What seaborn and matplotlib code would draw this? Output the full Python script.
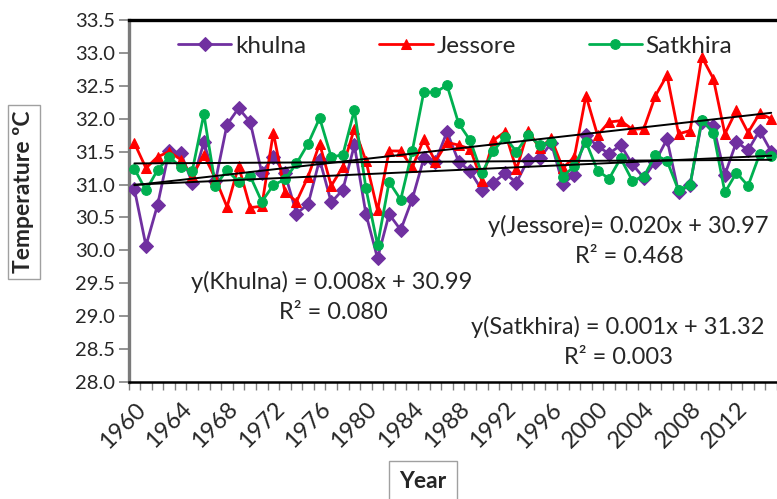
import matplotlib
matplotlib.use("Agg")
import numpy as np
import pandas as pd
import matplotlib.pyplot as plt
import seaborn as sns
from matplotlib.ticker import MultipleLocator, FormatStrFormatter

years = list(range(1960, 2016))

khulna = [30.93, 30.07, 30.69, 31.51, 31.48, 31.03, 31.64, 31.05, 31.91, 32.16,
          31.95, 31.18, 31.42, 31.17, 30.56, 30.70, 31.38, 30.73, 30.92, 31.60,
          30.55, 29.88, 30.55, 30.31, 30.78, 31.40, 31.35, 31.80, 31.35, 31.20,
          30.92, 31.03, 31.17, 31.03, 31.38, 31.40, 31.63, 31.01, 31.15, 31.75,
          31.58, 31.47, 31.60, 31.31, 31.10, 31.35, 31.69, 30.88, 31.00, 31.95,
          31.89, 31.15, 31.65, 31.52, 31.82, 31.50]

jessore = [31.63, 31.25, 31.42, 31.50, 31.38, 31.13, 31.45, 31.09, 30.66, 31.28,
           30.65, 30.67, 31.79, 30.89, 30.74, 31.12, 31.62, 30.98, 31.27, 31.85,
           31.36, 30.61, 31.51, 31.51, 31.26, 31.69, 31.35, 31.64, 31.60, 31.54,
           31.06, 31.67, 31.80, 31.23, 31.82, 31.55, 31.70, 31.25, 31.42, 32.35,
           31.75, 31.95, 31.97, 31.84, 31.85, 32.35, 32.66, 31.77, 31.82, 32.94,
           32.61, 31.77, 32.13, 31.79, 32.08, 32.00]

satkhira = [31.24, 30.91, 31.22, 31.42, 31.27, 31.21, 32.07, 30.98, 31.22, 31.04,
            31.13, 30.74, 30.99, 31.08, 31.32, 31.62, 32.01, 31.42, 31.45, 32.13,
            30.94, 30.08, 31.04, 30.77, 31.51, 32.41, 32.40, 32.51, 31.93, 31.67,
            31.17, 31.51, 31.72, 31.50, 31.75, 31.60, 31.65, 31.12, 31.28, 31.65,
            31.21, 31.09, 31.40, 31.06, 31.12, 31.45, 31.36, 30.91, 31.00, 31.98,
            31.79, 30.88, 31.18, 30.98, 31.46, 31.43]

# linear trends (x = 1 for 1960)
trend_slope = {"khulna": 0.008, "Jessore": 0.020, "Satkhira": 0.001}
trend_icpt = {"khulna": 30.99, "Jessore": 30.97, "Satkhira": 31.32}

df = pd.DataFrame({"Year": years, "khulna": khulna,
                   "Jessore": jessore, "Satkhira": satkhira})

sns.set_style("white")
plt.rcParams["font.family"] = ["Lato", "DejaVu Sans"]

W, H = 777, 499
fig = plt.figure(figsize=(W / 100, H / 100), dpi=100)
left_px, right_px, top_px, bot_px = 128.6, 777, 20, 382
ax = fig.add_axes([left_px / W, 1 - bot_px / H,
                   (right_px - left_px) / W, (bot_px - top_px) / H])

styles = [
    ("khulna", "#7030A0", "D", 7.5),
    ("Jessore", "#FF0000", "^", 6.5),
    ("Satkhira", "#00B050", "o", 7.0),
]
for name, col, mk, ms in styles:
    sns.lineplot(data=df, x="Year", y=name, ax=ax, color=col, marker=mk,
                 markersize=ms, markeredgecolor=col, linewidth=2.0,
                 label=name, zorder=3)

xs = np.array(years, dtype=float)
for name in ["khulna", "Jessore", "Satkhira"]:
    idx = xs - 1959
    ax.plot(xs, trend_slope[name] * idx + trend_icpt[name],
            color="black", linewidth=1.4, zorder=4)

ax.set_xlim(1959.5, 1959.5 + (right_px - left_px) / 11.74)
ax.set_ylim(28.0, 33.5)

ax.yaxis.set_major_locator(MultipleLocator(0.5))
ax.yaxis.set_major_formatter(FormatStrFormatter("%.1f"))
ax.set_xticks(list(range(1960, 2016, 4)))
ax.set_xticks(np.arange(1959.5, 2015.6, 1.0), minor=True)
ax.tick_params(axis="y", which="major", direction="out", length=7, width=1.2,
               color="#808080", labelsize=14.5, pad=3, left=True)
ax.tick_params(axis="x", which="major", length=0, labelsize=17, pad=12,
               bottom=True)
ax.tick_params(axis="x", which="minor", direction="out", length=6, width=1.0,
               color="#808080", bottom=True)
for lab in ax.get_xticklabels():
    lab.set_rotation(45)
    lab.set_ha("right")
    lab.set_va("top")
    lab.set_rotation_mode("anchor")

ax.spines["right"].set_visible(False)
ax.spines["top"].set_color("black")
ax.spines["top"].set_linewidth(2.4)
ax.spines["bottom"].set_color("black")
ax.spines["bottom"].set_linewidth(1.8)
ax.spines["left"].set_color("#7a7a7a")
ax.spines["left"].set_linewidth(2.4)

ax.set_xlabel("")
ax.set_ylabel("")
fig.text(24 / W, 1 - 192 / H, "Temperature ºC", rotation=90, ha="center",
         va="center", fontsize=16.5, fontweight="bold",
         bbox=dict(boxstyle="square,pad=0.25", fc="white", ec="#a0a0a0", lw=1))
fig.text(423 / W, 1 - 482 / H, "Year", ha="center", va="center",
         fontsize=16.5, fontweight="bold",
         bbox=dict(boxstyle="square,pad=0.45", fc="white", ec="#a0a0a0", lw=1))

ax.legend(loc="center left", bbox_to_anchor=(178 / W, 1 - 46 / H),
          bbox_transform=fig.transFigure, ncol=3, frameon=False,
          fontsize=17.5, handlelength=2.2, handletextpad=0.15,
          columnspacing=3.0, borderaxespad=0, borderpad=0)

fs = 17
ax.text(1977.08, 29.52, "y(Khulna) = 0.008x + 30.99", ha="center",
        va="center", fontsize=fs)
ax.text(1977.17, 29.05, "R² = 0.080", ha="center", va="center", fontsize=fs)
ax.text(2002.68, 30.37, "y(Jessore)= 0.020x + 30.97", ha="center",
        va="center", fontsize=fs)
ax.text(2002.72, 29.90, "R² = 0.468", ha="center", va="center", fontsize=fs)
ax.text(2001.78, 28.84, "y(Satkhira) = 0.001x + 31.32", ha="center",
        va="center", fontsize=fs)
ax.text(2001.78, 28.37, "R² = 0.003", ha="center", va="center", fontsize=fs)

fig.savefig("out.png", dpi=100)
